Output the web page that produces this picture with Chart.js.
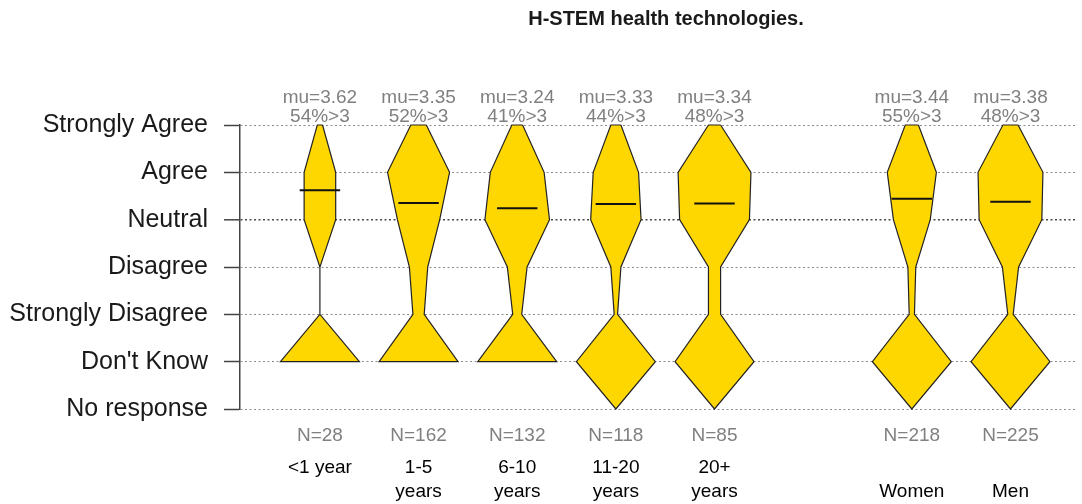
<!DOCTYPE html>
<html lang="en">
<head>
<meta charset="UTF-8">
<title>H-STEM health technologies</title>
<style>
  html, body { margin: 0; padding: 0; background: #fff; }
</style>
</head>
<body>
<canvas id="chart" width="1082" height="504"></canvas>

<script src="https://cdn.jsdelivr.net/npm/chart.js"></script>
<script>
// response levels, top to bottom (y value 5 .. -1)
const levels = ['Strongly Agree', 'Agree', 'Neutral', 'Disagree', 'Strongly Disagree', "Don't Know", 'No response'];
const levelValues = [5, 4, 3, 2, 1, 0, -1];

// groups along x, slot 6 stays empty as a gap
const groups = [['<1 year'], ['1-5', 'years'], ['6-10', 'years'], ['11-20', 'years'], ['20+', 'years'], ['', 'Women'], ['', 'Men']];
const groupPos = [1, 2, 3, 4, 5, 7, 8];
const groupN = [28, 162, 132, 118, 85, 218, 225];
const groupMu = [3.62, 3.35, 3.24, 3.33, 3.34, 3.44, 3.38];
const groupPctAbove3 = [54, 52, 41, 44, 48, 55, 48];

// answer counts per level for each group (null = level not drawn)
const cStronglyAgree    = [1, 11, 6, 6, 4, 15, 14];
const cAgree            = [6, 44, 30, 27, 24, 56, 60];
const cNeutral          = [6, 30, 36, 30, 23, 42, 58];
const cDisagree         = [0, 13, 11, 6, 4, 9, 15];
const cStronglyDisagree = [0, 8, 5, 2, 4, 6, 5];
const cDontKnow         = [15, 56, 44, 47, 26, 90, 73];
const cNoResponse       = [null, null, null, 0, 0, 0, 0];

const FONT = '"Liberation Sans", Arial, Helvetica, sans-serif';
const MAX_HALF = 0.4;   // half width of the widest level, in x units
const MU_HALF = 0.205;  // half length of the mean bar

// one closed outline per group: down the right side, back up the left side
function violin(i) {
  const counts = [cStronglyAgree, cAgree, cNeutral, cDisagree, cStronglyDisagree, cDontKnow, cNoResponse].map(a => a[i]);
  const max = Math.max(...counts.filter(c => c !== null));
  const right = [], left = [];
  counts.forEach((c, k) => {
    if (c === null) return;
    const w = MAX_HALF * c / max;
    right.push({ x: groupPos[i] + w, y: levelValues[k] });
    left.unshift({ x: groupPos[i] - w, y: levelValues[k] });
  });
  const pts = right.concat(left);
  pts.push(pts[0]);
  return pts;
}

const datasets = [];
groupPos.forEach((p, i) => {
  datasets.push({
    data: violin(i),
    showLine: true,
    fill: 'shape',
    backgroundColor: '#FFD700',
    borderColor: '#222222',
    borderWidth: 1.2,
    pointRadius: 0,
    tension: 0,
    clip: false,
    order: 2
  });
  datasets.push({
    data: [{ x: p - MU_HALF, y: groupMu[i] }, { x: p + MU_HALF, y: groupMu[i] }],
    showLine: true,
    borderColor: '#111111',
    borderWidth: 2,
    pointRadius: 0,
    clip: false,
    order: 1
  });
});

// title, mu / share above 3, N and group names
const groupText = {
  id: 'groupText',
  afterDraw(chart) {
    const { ctx, chartArea, scales: { x } } = chart;
    ctx.save();
    ctx.textAlign = 'center';
    ctx.textBaseline = 'alphabetic';
    ctx.fillStyle = '#1a1a1a';
    ctx.font = 'bold 20px ' + FONT;
    ctx.fillText('H-STEM health technologies.', 666, 25);
    groupPos.forEach((p, i) => {
      const cx = x.getPixelForValue(p);
      ctx.font = '19px ' + FONT;
      ctx.fillStyle = '#808080';
      ctx.fillText('mu=' + groupMu[i].toFixed(2), cx, chartArea.top - 22);
      ctx.fillText(groupPctAbove3[i] + '%>3', cx, chartArea.top - 3);
      ctx.fillText('N=' + groupN[i], cx, chartArea.bottom + 32);
      ctx.fillStyle = '#000000';
      groups[i].forEach((line, j) => ctx.fillText(line, cx, chartArea.bottom + 64 + j * 24));
    });
    ctx.restore();
  }
};

new Chart(document.getElementById('chart'), {
  type: 'scatter',
  data: { datasets: datasets },
  options: {
    responsive: false,
    animation: false,
    devicePixelRatio: 1,
    layout: { padding: { top: 125, bottom: 95, left: 0, right: 7 } },
    plugins: { legend: { display: false }, tooltip: { enabled: false }, title: { display: false } },
    scales: {
      x: { type: 'linear', min: 0.19, max: 8.654, display: false },
      y: {
        type: 'linear',
        min: -1,
        max: 5,
        afterFit(scale) { scale.width = 240; },
        afterBuildTicks(scale) { scale.ticks = levelValues.map(v => ({ value: v })); },
        ticks: {
          callback: v => levels[5 - v],
          color: '#1a1a1a',
          padding: 16,
          font: { family: FONT, size: 25 }
        },
        grid: {
          color: c => (c.tick && c.tick.value === 3 ? '#4a4a4a' : '#8a8a8a'),
          lineWidth: c => (c.tick && c.tick.value === 3 ? 1.6 : 1),
          tickLength: 16,
          tickColor: '#444444',
          tickWidth: 1.5,
          tickBorderDash: []
        },
        border: { display: true, color: '#444444', width: 1.5, dash: [2, 2.5] }
      }
    }
  },
  plugins: [groupText]
});
</script>
</body>
</html>
